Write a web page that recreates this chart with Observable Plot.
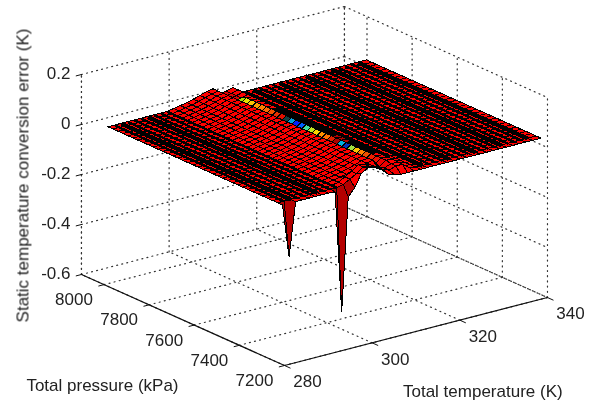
<!DOCTYPE html>
<html><head><meta charset="utf-8">
<style>html,body{margin:0;padding:0;background:#fff}svg{display:block}svg text{filter:blur(0.25px)}</style>
<script src="https://cdn.jsdelivr.net/npm/d3@7"></script>
<script src="https://cdn.jsdelivr.net/npm/@observablehq/plot@0.6"></script>
</head><body><div id="chart"></div>
<script>
// axis ticks
const tempTicks = [280, 300, 320, 340];
const presTicks = [7200, 7400, 7600, 7800, 8000];
const errTicks = [-0.6, -0.4, -0.2, 0, 0.2];
const tempDomain = [280, 340];
const presDomain = [7200, 8100];
const errDomain = [-0.6, 0.2];
const tempLabel = "Total temperature (K)";
const presLabel = "Total pressure (kPa)";
const errLabel = "Static temperature conversion error (K)";

// surface grid
const temps = [281,282.5,284,285.5,287,288.5,290,291.5,293,294.5,296,297.5,299,300.5,302,303.5,305,306.5,308,309.5,311,312.5,314,315.5,317,318.5,320,321.5,323,324.5,326,327.5,329,330.5,332,333.5,335,336.5,338,340];
const pressures = [7226,7248,7270,7292,7314,7336,7358,7381,7403,7425,7447,7469,7491,7513,7535,7557,7579,7601,7624,7646,7668,7690,7712,7734,7756,7778,7800,7822,7844,7867,7889,7911,7933,7955,7977,8000];

// error across temperature, one list per group of pressure rows
const flatErr = 0.025;
const rowFront = [0.025,-0.19,0.025,0.025,0.025,0.025,0.025,0.025,0.023,-0.464,-0.011,0.02,0.07,0.085,0.08,0.065,0.04,0.03,0.025,0.025,0.025,0.025];
const rowNext  = [0.025,0.025,0.025,0.025,0.025,0.025,0.025,0.025,0.025,0.025,0.03,0.045,0.06,0.08,0.075,0.065,0.05,0.04,0.05,0.05,0.03,0.025];
const rowMid   = [0.025,0.025,0.025,0.025,0.025,0.025,0.025,0.025,0.025,0.025,0.03,0.035,0.04,0.047,0.055,0.064,0.068,0.035,0.055,0.052,0.03,0.025];
const rowBack  = [0.025,0.025,0.025,0.025,0.025,0.025,0.025,0.025,0.025,0.025,0.03,0.035,0.04,0.047,0.055,0.064,0.068,0.04,0.045,0.053,0.03,0.025];

// colours of the trench wall, from the back row to the front row
const wallColors = ["#e00000","#e00000","#e00000","#a8e000","#e8e000","#ffc000","#ff9800","#ff8000","#ff6800","#f05000","#e83000","#e01000","#104040","#00a0e0","#0020ff","#0060ff","#40e0a0","#c0e020","#ffd000","#ff9000","#ff7000","#e02000","#b00000","#00b0e0","#0030c0","#a0e040","#ffc000","#ff8000","#f05000","#f02000","#f01000","#f00000","#f00000","#f00000","#f00000"];
const surfaceRed = "#ff0000";
const spikeRed = "#b40000";
const wallCell = 17;
// temperature lines that lie on the flat part of the surface
const flatLines = [282.5,284,285.5,287,288.5,290,291.5,293,294.5,314,315.5,317,318.5,320,321.5,323,324.5,326,327.5,329,330.5,332,333.5,335,336.5,338];
// the ones that read as heavier black bands
const bandLines = [284,290,314,320,326,332,338];

// fixed view of the box: corner at (280 K, 7200 kPa, -0.6 K)
const px = (T, P) => 284 + (T - 280) * 4.383 - (P - 7200) * 0.2256;
const py = (T, P, e) => 365 - (T - 280) * 1.133 - (P - 7200) * 0.1011 - (e + 0.6) * 250;
const at = (T, P, e) => ({T, P, e, x: px(T, P), y: py(T, P, e)});

function err(i, j) {
  const row = j === 0 ? rowFront : j <= 2 ? rowNext : j >= 32 ? rowBack : rowMid;
  return i < row.length ? row[i] : flatErr;
}
function cellColor(i, j) {
  const r = pressures.length - 2 - j;
  if (j === 0 && (i <= 1 || (i >= 8 && i <= 10))) return spikeRed;
  if (i === wallCell) return wallColors[r];
  if (r >= 29 && i > wallCell && i <= wallCell + 3) return surfaceRed;
  if (i === wallCell + 1) return r < 9 ? surfaceRed : (r >= 21 && r <= 23 ? spikeRed : "#000");
  if (i === wallCell + 2 || i === wallCell + 3) return "#000";
  return surfaceRed;
}

const cells = [];
for (let j = pressures.length - 2; j >= 0; j--) {
  for (let i = temps.length - 2; i >= 0; i--) {
    const id = i + "-" + j, color = cellColor(i, j);
    for (const k of [j, j + 1]) {
      cells.push({id, color,
        x1: px(temps[i], pressures[k]), y1: py(temps[i], pressures[k], err(i, k)),
        x2: px(temps[i + 1], pressures[k]), y2: py(temps[i + 1], pressures[k], err(i + 1, k))});
    }
  }
}

// grid lines on floor and back walls
const [T0, T1] = tempDomain, [P0, P1] = presDomain, [E0, E1] = errDomain;
const grid = [];
const seg = (a, b) => { const id = grid.length; grid.push({id, ...a}, {id, ...b}); };
for (const T of tempTicks) {
  seg(at(T, P0, E0), at(T, P1, E0));
  seg(at(T, P1, E0), at(T, P1, E1));
}
for (const P of presTicks) {
  seg(at(T0, P, E0), at(T1, P, E0));
  seg(at(T1, P, E0), at(T1, P, E1));
}
for (const e of errTicks) {
  seg(at(T0, P1, e), at(T1, P1, e));
  seg(at(T1, P1, e), at(T1, P0, e));
}
seg(at(T0, P1, E0), at(T0, P1, E1));
seg(at(T1, P1, E0), at(T1, P1, E1));

const axisLine = [at(T0, P1, E0), at(T0, P0, E0), at(T1, P0, E0)];
const ticks = [];
const tick = (a, b) => { const id = ticks.length; ticks.push({id, ...a}, {id, ...b}); };
for (const P of presTicks) tick(at(T0, P, E0), at(T0 - 1.2, P, E0));
for (const T of tempTicks) tick(at(T, P0, E0), at(T, P0 - 25, E0));
for (const e of errTicks) tick(at(T0, P1, e), at(T0 - 1.2, P1, e));

const textOpts = {fontFamily: "Liberation Sans, Arial, sans-serif", fontSize: 17, fill: "#222"};

const plot = Plot.plot({
  width: 600, height: 406,
  marginTop: 0, marginRight: 0, marginBottom: 0, marginLeft: 0,
  style: {background: "#fff"},
  x: {domain: [0, 600], range: [0, 600], axis: null},
  y: {domain: [0, 406], range: [0, 406], axis: null},
  color: {type: "identity"},
  marks: [
    Plot.line(grid, {x: "x", y: "y", z: "id", stroke: "#333", strokeWidth: 1.2, strokeDasharray: "1,4.2"}),
    Plot.line(axisLine, {x: "x", y: "y", stroke: "#111", strokeWidth: 1.2}),
    Plot.line(ticks, {x: "x", y: "y", z: "id", stroke: "#111", strokeWidth: 1}),
    Plot.area(cells, {x1: "x1", y1: "y1", x2: "x2", y2: "y2", z: "id", fill: "color", stroke: "#000", strokeWidth: 1, shapeRendering: "crispEdges"}),
    Plot.link(flatLines, {
      x1: T => px(T, pressures[1]), y1: T => py(T, pressures[1], flatErr),
      x2: T => px(T, pressures[pressures.length - 1]), y2: T => py(T, pressures[pressures.length - 1], flatErr),
      stroke: "#000", strokeWidth: T => bandLines.includes(T) ? 4.2 : 2.4, shapeRendering: "crispEdges"}),
    Plot.text(errTicks, {x: d => px(T0, P1), y: d => py(T0, P1, d), text: d => String(d), textAnchor: "end", dx: -11, dy: -1, ...textOpts}),
    Plot.text(presTicks, {x: d => px(T0, d), y: d => py(T0, d, E0), text: d => String(d), dx: -30, dy: 15, ...textOpts}),
    Plot.text(tempTicks, {x: d => px(d, P0), y: d => py(d, P0, E0), text: d => String(d), dx: 23, dy: 16.5, ...textOpts}),
    Plot.text([presLabel], {x: px(T0, P1), y: py(T0, P1, E0), text: d => d, dx: 21, dy: 111, ...textOpts}),
    Plot.text([tempLabel], {x: px(320, P0), y: py(320, P0, E0), text: d => d, dx: 23, dy: 71, ...textOpts}),
    Plot.text([errLabel], {x: px(T0, P1), y: py(T0, P1, -0.2), text: d => d, rotate: -90, dx: -58, dy: 1, ...textOpts})
  ]
});
document.getElementById("chart").append(plot);
</script></body></html>
